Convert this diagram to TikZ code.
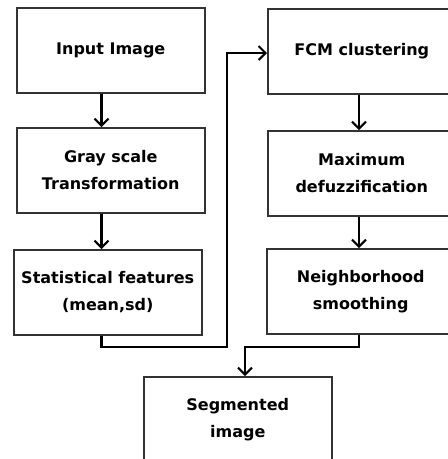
\documentclass[tikz,border=0pt]{standalone}
\usepackage{fontspec}
\setmainfont{DejaVu Sans}
\usetikzlibrary{arrows.meta,calc}
\begin{document}
\begin{tikzpicture}[x=1pt,y=-1pt,
  box/.style={draw=black!80,line width=1.5pt,minimum width=188pt,minimum height=85pt,
    inner sep=0pt,anchor=north west,align=center,
    font=\fontsize{16}{27}\selectfont\bfseries},
  flow/.style={line width=2.4pt,black,-{Straight Barb[length=7pt,width=14pt,line width=2pt]}}]
\useasboundingbox (0,0) rectangle (448,459);
\clip (0,0) rectangle (448,459);
\node[box] (b1) at (16,7) {Input Image};
\node[box] (b2) at (16,127) {Gray scale\\Transformation};
\node[box] (b3) at (13,249) {Statistical features\\(mean,sd)};
\node[box] (b4) at (267,8) {FCM clustering};
\node[box] (b5) at (267,130) {Maximum\\defuzzification};
\node[box] (b6) at (266,248) {Neighborhood\\smoothing};
\node[box] (b7) at (143,376) {Segmented\\image};
\coordinate (lx) at (101.5,0);
\coordinate (rx) at (359,0);
\coordinate (j1) at (227,347);
\coordinate (j2) at (245,347);
\draw[flow] (b1.south -| lx) -- (b2.north -| lx);
\draw[flow] (b2.south -| lx) -- (b3.north -| lx);
\draw[flow] (b3.south -| lx) |- (j1) |- (b4.west |- 0,53);
\draw[flow] (b4.south -| rx) -- (b5.north -| rx);
\draw[flow] (b5.south -| rx) -- (b6.north -| rx);
\draw[flow] (b6.south -| rx) |- (j2) -- (b7.north -| j2);
\end{tikzpicture}
\end{document}
